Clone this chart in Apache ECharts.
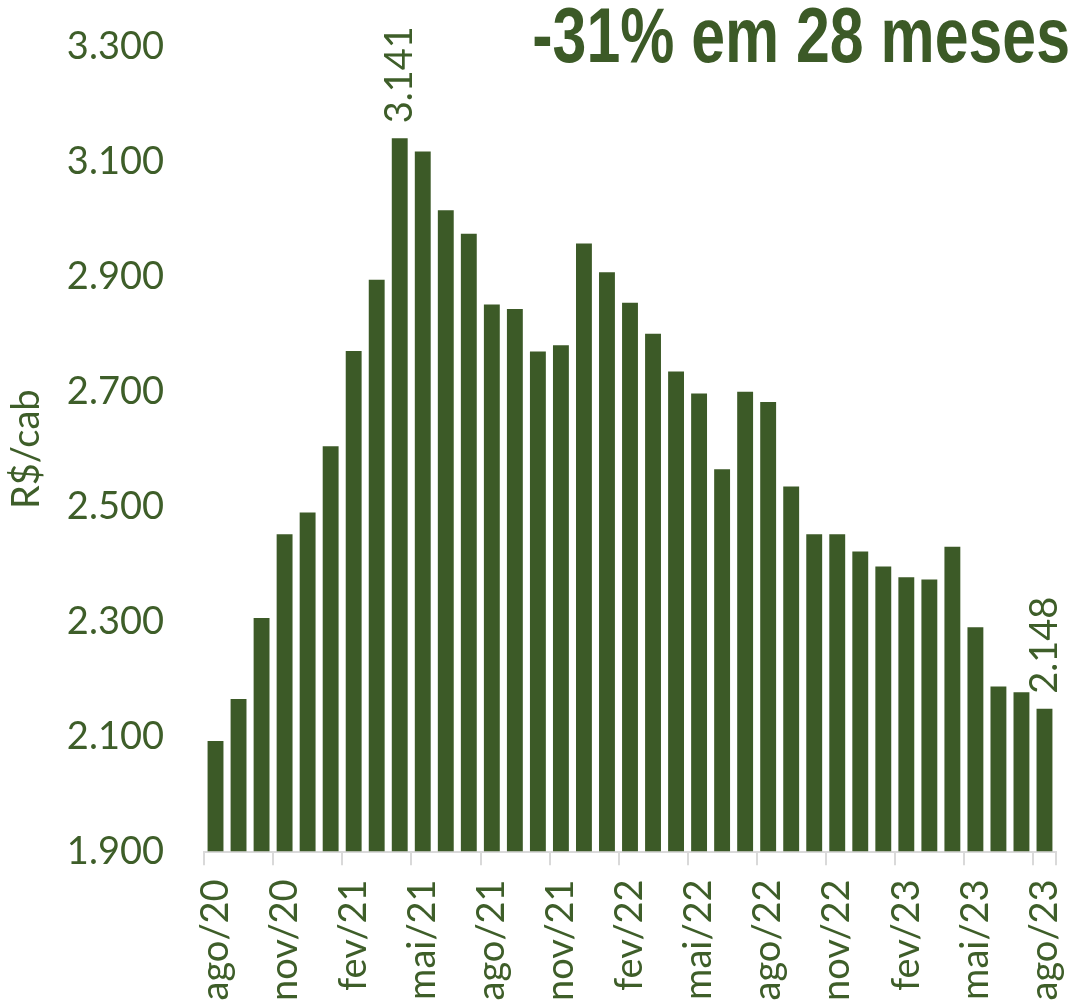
<!DOCTYPE html>
<html>
<head>
<meta charset="utf-8">
<script src="https://cdn.jsdelivr.net/npm/echarts@6/dist/echarts.min.js"></script>
<style>
  html, body { margin: 0; padding: 0; background: #fff; }
  #chart { width: 1078px; height: 1004px; }
</style>
</head>
<body>
<div id="chart"></div>
<script>
// meses ago/20 .. ago/23
var months = [
  'ago/20', 'set/20', 'out/20', 'nov/20', 'dez/20', 'jan/21',
  'fev/21', 'mar/21', 'abr/21', 'mai/21', 'jun/21', 'jul/21',
  'ago/21', 'set/21', 'out/21', 'nov/21', 'dez/21', 'jan/22',
  'fev/22', 'mar/22', 'abr/22', 'mai/22', 'jun/22', 'jul/22',
  'ago/22', 'set/22', 'out/22', 'nov/22', 'dez/22', 'jan/23',
  'fev/23', 'mar/23', 'abr/23', 'mai/23', 'jun/23', 'jul/23',
  'ago/23'
];

// R$/cab
var prices = [
  2092, 2165, 2306, 2452, 2490, 2605,
  2771, 2895, 3141, 3118, 3016, 2975,
  2852, 2844, 2770, 2781, 2958, 2908,
  2855, 2801, 2735, 2697, 2565, 2700,
  2682, 2535, 2452, 2452, 2422, 2396,
  2377, 2373, 2430, 2290, 2187, 2177,
  2148
];

var labeledIdx = [8, 36];
var yTicks = [1900, 2100, 2300, 2500, 2700, 2900, 3100, 3300];
var title = '-31% em 28 meses';

var green = '#3c5a27';
var textGreen = '#3e5e29';

function fmt(v) {
  return String(v).replace(/\B(?=(\d{3})+(?!\d))/g, '.');
}

var barData = prices.map(function (v, i) {
  if (labeledIdx.indexOf(i) >= 0) {
    return { value: v, label: { show: true } };
  }
  return v;
});

var chart = echarts.init(document.getElementById('chart'));

chart.setOption({
  backgroundColor: '#ffffff',
  animation: false,
  grid: { left: 199, right: 22, top: 47, bottom: 151 },
  xAxis: {
    type: 'category',
    data: months,
    boundaryGap: true,
    axisLine: { lineStyle: { color: '#d9d9d9', width: 2 } },
    axisTick: { show: true, interval: 2, length: 14, lineStyle: { color: '#d9d9d9', width: 2 } },
    axisLabel: {
      interval: 2,
      rotate: 90,
      margin: 28,
      color: textGreen,
      fontFamily: 'Lato',
      fontSize: 38
    }
  },
  yAxis: {
    type: 'value',
    min: 1900,
    max: 3300,
    interval: 100,
    name: 'R$/cab',
    nameLocation: 'middle',
    nameRotate: 90,
    nameGap: 158,
    nameTextStyle: { color: textGreen, fontFamily: 'Lato', fontSize: 38 },
    axisLine: { show: false },
    axisTick: { show: false },
    splitLine: { show: false },
    axisLabel: {
      margin: 40,
      color: textGreen,
      fontFamily: 'Lato',
      fontSize: 38,
      formatter: function (v) {
        return yTicks.indexOf(v) >= 0 ? fmt(v) : '';
      }
    }
  },
  series: [{
    type: 'bar',
    data: barData,
    barCategoryGap: '31%',
    itemStyle: { color: green },
    label: {
      show: false,
      position: 'top',
      rotate: 90,
      align: 'left',
      verticalAlign: 'middle',
      distance: 15,
      color: textGreen,
      fontFamily: 'Lato',
      fontSize: 38,
      formatter: function (p) { return fmt(p.value); }
    }
  }],
  graphic: [{
    type: 'text',
    x: 1070,
    y: 41,
    scaleX: 0.79,
    style: {
      text: title,
      fill: green,
      font: 'bold 77px "Liberation Sans", Arial, sans-serif',
      align: 'right',
      verticalAlign: 'middle'
    }
  }]
});
</script>
</body>
</html>
